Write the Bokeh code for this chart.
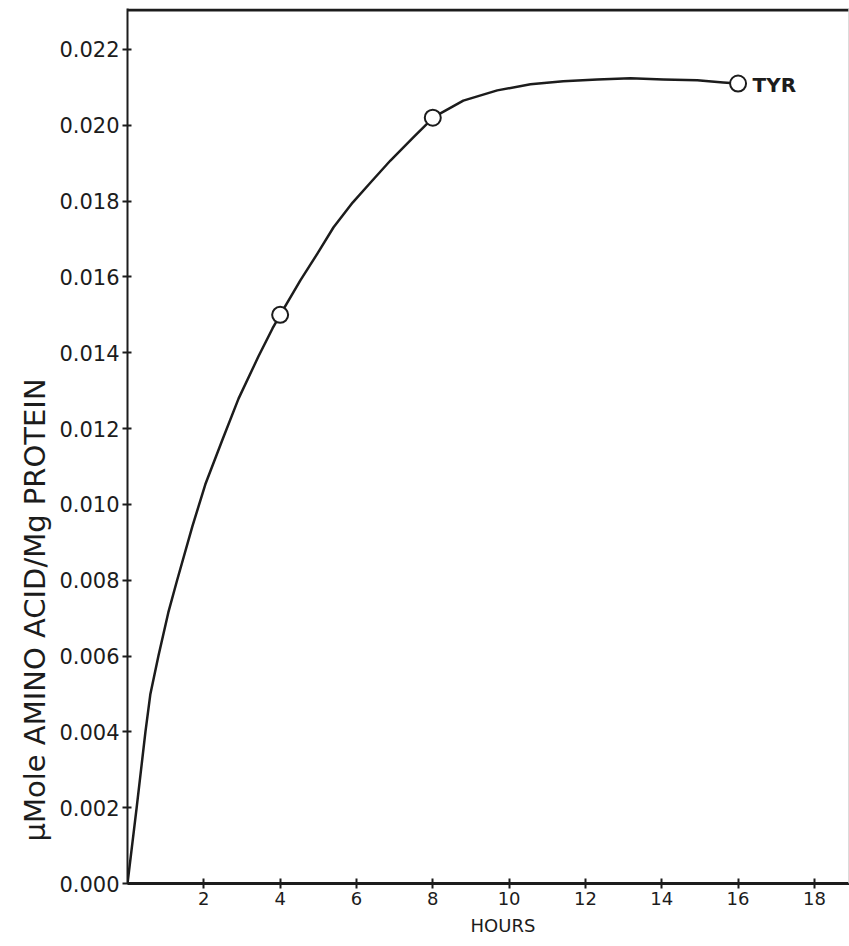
from bokeh.plotting import figure
from bokeh.models import Range1d, FixedTicker, PrintfTickFormatter, Label, Span, Title
from bokeh.embed import file_html
from bokeh.resources import INLINE

# measured points (hours, umole amino acid / mg protein)
point_hours = [4, 8, 16]
point_values = [0.0150, 0.0202, 0.0211]

# hand-drawn smooth curve
curve_hours = [0.0, 0.24, 0.47, 0.60, 0.81, 1.07, 1.30, 1.70, 2.04, 2.49, 2.91, 3.43, 3.80,
               4.0, 4.53, 4.98, 5.40, 5.90, 6.37, 6.89, 7.49, 7.86,
               8.0, 8.80, 9.69, 10.56, 11.42, 12.31, 13.18, 14.04, 14.93, 15.61, 16.0]
curve_values = [0.0, 0.0020, 0.0040, 0.0050, 0.0060, 0.00715, 0.0080, 0.00942, 0.01053,
                0.01171, 0.01279, 0.01390, 0.01464,
                0.0150, 0.01591, 0.01662, 0.01731, 0.01796, 0.01849, 0.01907, 0.01968, 0.02005,
                0.0202, 0.02065, 0.02092, 0.02108, 0.02116, 0.02121, 0.02124, 0.02121, 0.02119,
                0.02113, 0.0211]

x_ticks = [2, 4, 6, 8, 10, 12, 14, 16, 18]
y_ticks = [0.000, 0.002, 0.004, 0.006, 0.008, 0.010, 0.012, 0.014, 0.016, 0.018, 0.020, 0.022]

series_label = "TYR"
x_title = "HOURS"
y_title = "µMole AMINO ACID/Mg PROTEIN"

INK = "#1c1c1c"
FONT = "DejaVu Sans"

X_END = 18.92
Y_END = 0.02308

p = figure(width=849, height=946, output_backend="svg", toolbar_location=None,
           x_range=Range1d(0, X_END), y_range=Range1d(0, Y_END),
           min_border_left=127, min_border_right=0, min_border_top=8, min_border_bottom=63)
p.background_fill_color = "white"
p.border_fill_color = "white"
p.outline_line_color = None
p.grid.visible = False

# axes
for ax in (p.xaxis[0], p.yaxis[0]):
    ax.axis_line_color = INK
    ax.major_tick_line_color = INK
    ax.major_tick_line_width = 2
    ax.minor_tick_line_color = None
    ax.major_label_text_color = INK
    ax.major_label_text_font = FONT

p.xaxis.ticker = FixedTicker(ticks=x_ticks)
p.xaxis.axis_line_width = 3
p.xaxis.major_tick_in = 5
p.xaxis.major_tick_out = 5
p.xaxis.major_label_standoff = 3
p.xaxis.major_label_text_font_size = "18px"

p.yaxis.ticker = FixedTicker(ticks=y_ticks)
p.yaxis.formatter = PrintfTickFormatter(format="%.3f")
p.yaxis.axis_line_width = 2
p.yaxis.major_tick_in = 4
p.yaxis.major_tick_out = 5
p.yaxis.major_label_standoff = 3
p.yaxis.major_label_text_font_size = "21px"

# axis titles as side titles (so they can be shifted like the hand lettering)
p.add_layout(Title(text=x_title, align="left", offset=343, text_font=FONT,
                   text_font_size="18px", text_font_style="normal", text_color=INK), "below")
p.add_layout(Title(text=y_title, align="left", offset=42, text_font=FONT,
                   text_font_size="29px", text_font_style="normal", text_color=INK), "left")

# frame top and faint right edge
p.add_layout(Span(location=Y_END - 0.00004, dimension="width", line_color=INK, line_width=3))
p.add_layout(Span(location=X_END - 0.02, dimension="height", line_color="#d0d0d0", line_width=1))

# curve and points
p.line(curve_hours, curve_values, line_color=INK, line_width=2.5, line_join="round", line_cap="round")
p.scatter(point_hours, point_values, size=16, marker="circle",
          fill_color="white", line_color=INK, line_width=2)

# series label
p.add_layout(Label(x=16.38, y=0.02105, text=series_label, text_font=FONT, text_font_style="bold",
                   text_font_size="20px", text_color=INK, text_align="left", text_baseline="middle"))

open("out.html", "w").write(file_html(p, INLINE))
